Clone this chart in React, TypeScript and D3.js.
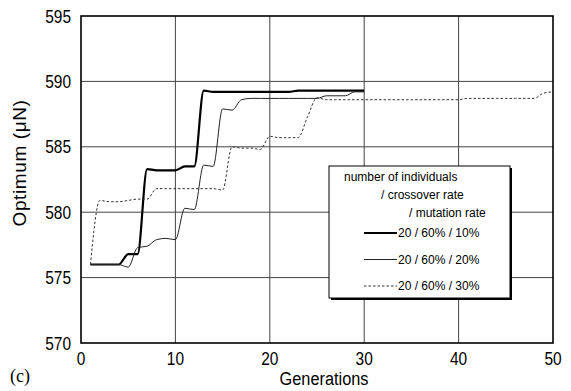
import * as d3 from "d3";

// generations 1..n, optimum values (µN)
const generations = d3.range(1, 51);
const rate10 = [576, 576, 576, 576, 576.8, 576.8, 583.3, 583.2, 583.2, 583.2, 583.5, 583.5, 589.3, 589.2, 589.2, 589.2, 589.2, 589.2, 589.2, 589.2, 589.2, 589.2, 589.3, 589.3, 589.3, 589.3, 589.3, 589.3, 589.3, 589.3];
const rate20 = [576, 576, 576, 576, 575.8, 577.3, 577.4, 577.9, 578, 577.9, 580.3, 580.2, 583.6, 583.5, 587.9, 587.8, 588.6, 588.7, 588.7, 588.7, 588.7, 588.7, 588.7, 588.7, 588.7, 588.9, 588.9, 588.9, 589.2, 589.2];
const rate30 = [576, 580.9, 580.8, 580.8, 580.9, 581, 581, 581.8, 581.8, 581.8, 581.8, 581.8, 581.8, 581.8, 581.7, 585, 584.9, 584.9, 584.8, 585.8, 585.7, 585.7, 585.7, 587.3, 588.75, 588.6, 588.6, 588.6, 588.6, 588.6, 588.6, 588.6, 588.6, 588.6, 588.6, 588.6, 588.6, 588.6, 588.6, 588.6, 588.7, 588.7, 588.7, 588.7, 588.7, 588.7, 588.7, 588.7, 589.1, 589.2];

const xTicks = [0, 10, 20, 30, 40, 50];
const yTicks = [570, 575, 580, 585, 590, 595];

const legendTitle = ["number of individuals", "/ crossover rate", "/ mutation rate"];
const series = [
  { label: "20 / 60% / 10%", values: rate10, width: 2.2, dash: "", color: "#000" },
  { label: "20 / 60% / 20%", values: rate20, width: 1, dash: "", color: "#222" },
  { label: "20 / 60% / 30%", values: rate30, width: 1, dash: "2.5,2", color: "#333" },
];

const W = 571;
const H = 391;
const margin = { top: 16, right: 18, bottom: 48, left: 81 };
const font = "'Liberation Sans', Arial, sans-serif";

// narrow-looking label: squeeze horizontally around its anchor point
function Narrow({ x, y, anchor, size, children }: { x: number; y: number; anchor: string; size: number; children: any }) {
  return (
    <g transform={`translate(${x},${y}) scale(0.86,1)`}>
      <text x={0} y={0} textAnchor={anchor} fontFamily={font} fontSize={size}>
        {children}
      </text>
    </g>
  );
}

export default function App() {
  const iw = W - margin.left - margin.right;
  const ih = H - margin.top - margin.bottom;
  const x = d3.scaleLinear().domain([0, 50]).range([0, iw]);
  const y = d3.scaleLinear().domain([570, 595]).range([ih, 0]);

  const lineGen = d3
    .line<number>()
    .x((_, i) => x(generations[i]))
    .y((d) => y(d))
    .curve(d3.curveMonotoneX);

  const lg = { x: 329 - margin.left, y: 166 - margin.top, w: 181, h: 132 };

  return (
    <svg
      width={W}
      height={H}
      style={{ position: "fixed", left: 0, top: 0, background: "#fff" }}
    >
      <g transform={`translate(${margin.left},${margin.top})`}>
        {xTicks.slice(1, -1).map((t) => (
          <line key={t} x1={x(t)} x2={x(t)} y1={0} y2={ih} stroke="#444" strokeWidth={1} />
        ))}
        {yTicks.slice(1, -1).map((t) => (
          <line key={t} x1={0} x2={iw} y1={y(t)} y2={y(t)} stroke="#444" strokeWidth={1} />
        ))}
        <rect x={0} y={0} width={iw} height={ih} fill="none" stroke="#000" strokeWidth={1.6} />

        {series.map((s) => (
          <path
            key={s.label}
            d={lineGen(s.values) ?? ""}
            fill="none"
            stroke={s.color}
            strokeWidth={s.width}
            strokeDasharray={s.dash || undefined}
          />
        ))}

        {yTicks.map((t) => (
          <Narrow key={t} x={-10} y={y(t) + 6.5} anchor="end" size={18}>
            {t}
          </Narrow>
        ))}
        {xTicks.map((t) => (
          <Narrow key={t} x={x(t)} y={ih + 22} anchor="middle" size={18}>
            {t}
          </Narrow>
        ))}

        <Narrow x={243} y={ih + 42} anchor="middle" size={19}>
          Generations
        </Narrow>
        <text
          transform={`translate(${-55},${163 - margin.top}) rotate(-90)`}
          textAnchor="middle"
          fontFamily={font}
          fontSize={19}
          letterSpacing={0.6}
        >
          Optimum (μN)
        </text>

        {/* legend */}
        <g transform={`translate(${lg.x},${lg.y})`}>
          <rect x={2} y={2} width={lg.w} height={lg.h} fill="#000" />
          <rect x={0} y={0} width={lg.w} height={lg.h} fill="#fff" stroke="#000" strokeWidth={1} />
          {legendTitle.map((t, i) => (
            <text
              key={t}
              x={[15, 52, 80][i]}
              y={15 + i * 18}
              fontFamily={font}
              fontSize={12}
            >
              {t}
            </text>
          ))}
          {series.map((s, i) => (
            <g key={s.label} transform={`translate(0,${67 + i * 26.5})`}>
              <line
                x1={35}
                x2={68}
                y1={0}
                y2={0}
                stroke={s.color}
                strokeWidth={s.width}
                strokeDasharray={s.dash || undefined}
              />
              <text x={69} y={0} dy="0.36em" fontFamily={font} fontSize={12}>
                {s.label}
              </text>
            </g>
          ))}
        </g>
      </g>
      <text x={10} y={382} fontFamily="'Liberation Serif', 'Times New Roman', serif" fontSize={18}>
        (c)
      </text>
    </svg>
  );
}
